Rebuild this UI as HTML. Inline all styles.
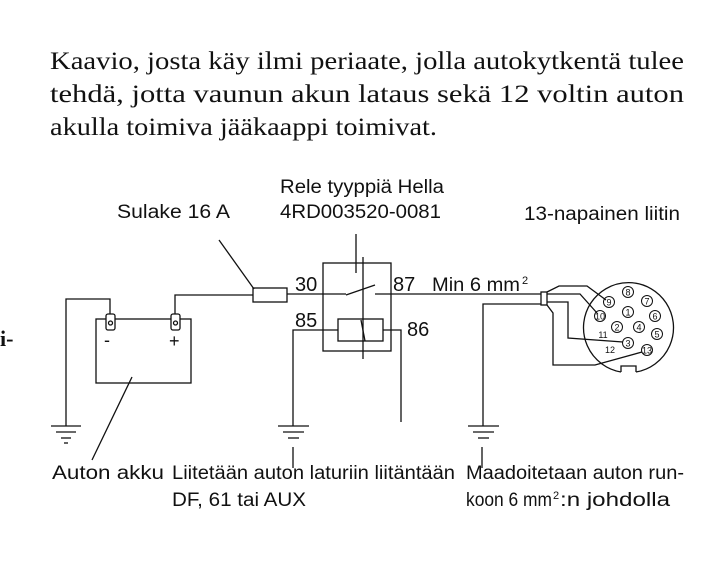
<!DOCTYPE html>
<html><head><meta charset="utf-8"><style>
html,body{margin:0;padding:0;background:#fff;}
svg{display:block;}
.s{font-family:"Liberation Serif",serif;font-size:25px;fill:#111;}
.a{font-family:"Liberation Sans",sans-serif;font-size:19px;fill:#111;}
.sup{font-family:"Liberation Sans",sans-serif;font-size:11px;fill:#111;}
.n{font-family:"Liberation Sans",sans-serif;font-size:20px;fill:#111;}
.p{font-family:"Liberation Sans",sans-serif;font-size:9px;fill:#111;}
</style></head><body>
<svg width="719" height="562" viewBox="0 0 719 562" xmlns="http://www.w3.org/2000/svg">
<rect width="719" height="562" fill="#fff"/>
<text class="s" x="50" y="69" textLength="634" lengthAdjust="spacingAndGlyphs">Kaavio, josta käy ilmi periaate, jolla autokytkentä tulee</text>
<text class="s" x="50" y="102" textLength="634" lengthAdjust="spacingAndGlyphs">tehdä, jotta vaunun akun lataus sekä 12 voltin auton</text>
<text class="s" x="50" y="135" textLength="387" lengthAdjust="spacingAndGlyphs">akulla toimiva jääkaappi toimivat.</text>
<text x="0" y="346" style="font-family:'Liberation Serif',serif;font-size:22px;font-weight:bold;fill:#111">i-</text>

<g stroke="#111" stroke-width="1.3" fill="none">
<rect x="96" y="319" width="95" height="64"/>
<rect x="106" y="314" width="9" height="16" rx="2" fill="#fff"/>
<circle cx="110.5" cy="323" r="2"/>
<rect x="171" y="314" width="9" height="16" rx="2" fill="#fff"/>
<circle cx="175.5" cy="323" r="2"/>
<polyline points="110,314 110,299 66,299 66,426"/>
<polyline points="175,314 175,295 253,295"/>
<line x1="132" y1="377" x2="92" y2="460"/>
<line x1="51" y1="426" x2="81" y2="426"/><line x1="56" y1="432" x2="76" y2="432"/><line x1="61" y1="438" x2="71" y2="438"/><line x1="64" y1="443" x2="68" y2="443"/>
<line x1="278" y1="426" x2="309" y2="426"/><line x1="283" y1="432" x2="304" y2="432"/><line x1="288" y1="438" x2="299" y2="438"/><line x1="293" y1="447" x2="293" y2="468"/>
<line x1="468" y1="426" x2="499" y2="426"/><line x1="473" y1="432" x2="494" y2="432"/><line x1="478" y1="438" x2="489" y2="438"/><line x1="482" y1="447" x2="482" y2="468"/>
<rect x="253" y="288" width="34" height="14"/>
<line x1="287" y1="294" x2="346" y2="294"/>
<line x1="219" y1="240" x2="254" y2="289"/>
<rect x="323" y="263" width="68" height="88"/>
<line x1="356" y1="234" x2="356" y2="273"/>
<line x1="363" y1="257" x2="363" y2="359"/>
<line x1="346" y1="295" x2="375" y2="285"/>
<line x1="375" y1="294" x2="541" y2="294"/>
<rect x="338" y="319" width="45" height="22"/>
<line x1="361" y1="320" x2="365" y2="341"/>
<polyline points="338,330 293,330 293,426"/>
<polyline points="383,330 401,330 401,422"/>
<rect x="541" y="292" width="6" height="13" fill="#fff"/>
<polyline points="541,304 483,304 483,426"/>
<path d="M636 372 A45 45 0 1 0 621 372"/>
<polyline points="621,372 621,366 636,366 636,372"/>
<polyline points="547,292 559,286 587,286 606,300"/>
<polyline points="547,294 580,294 597,313"/>
<polyline points="547,302 568,302 568,338 623,342"/>
<polyline points="547,305 553,313 553,365 595,365 642,352"/>
<g stroke-width="1">
<circle cx="609" cy="302" r="5.5"/><circle cx="628" cy="292" r="5.5"/><circle cx="647" cy="301" r="5.5"/>
<circle cx="600" cy="316" r="5.5"/><circle cx="628" cy="312" r="5.5"/><circle cx="655" cy="316" r="5.5"/>
<circle cx="617" cy="327" r="5.5"/><circle cx="639" cy="327" r="5.5"/><circle cx="657" cy="334" r="5.5"/>
<circle cx="628" cy="343" r="5.5"/><circle cx="647" cy="350" r="5.5"/>
</g>
</g>
<g class="p" text-anchor="middle">
<text x="609" y="305.5">9</text><text x="628" y="295.5">8</text><text x="647" y="304.5">7</text>
<text x="600" y="319.5">10</text><text x="628" y="315.5">1</text><text x="655" y="319.5">6</text>
<text x="617" y="330.5">2</text><text x="639" y="330.5">4</text><text x="657" y="337.5">5</text>
<text x="628" y="346.5">3</text><text x="647" y="353.5">13</text>
<text x="603" y="338">11</text><text x="610" y="353">12</text>
</g>
<text x="104" y="346" class="a" style="font-size:18px">-</text>
<text x="169" y="347" class="a" style="font-size:18px">+</text>

<text class="n" x="295" y="291">30</text>
<text class="n" x="393" y="291">87</text>
<text class="n" x="295" y="327">85</text>
<text class="n" x="407" y="336">86</text>

<text class="a" x="117" y="218" textLength="113" lengthAdjust="spacingAndGlyphs">Sulake 16 A</text>
<text class="a" x="280" y="193" textLength="164" lengthAdjust="spacingAndGlyphs">Rele tyyppiä Hella</text>
<text class="a" x="280" y="218" textLength="161" lengthAdjust="spacingAndGlyphs">4RD003520-0081</text>
<text class="a" x="524" y="220" textLength="156" lengthAdjust="spacingAndGlyphs">13-napainen liitin</text>
<text class="a" x="432" y="291" textLength="88" lengthAdjust="spacingAndGlyphs">Min 6 mm</text>
<text class="sup" x="522" y="284">2</text>

<text class="a" x="52" y="479" textLength="112" lengthAdjust="spacingAndGlyphs">Auton akku</text>
<text class="a" x="172" y="479" textLength="283" lengthAdjust="spacingAndGlyphs">Liitetään auton laturiin liitäntään</text>
<text class="a" x="466" y="479" textLength="218" lengthAdjust="spacingAndGlyphs">Maadoitetaan auton run-</text>
<text class="a" x="172" y="506" textLength="134" lengthAdjust="spacingAndGlyphs">DF, 61 tai AUX</text>
<text class="a" x="466" y="506" style="font-size:19px" textLength="86" lengthAdjust="spacingAndGlyphs">koon 6 mm</text>
<text class="sup" x="553" y="499">2</text>
<text class="a" x="560" y="506" style="font-size:19px" textLength="110" lengthAdjust="spacingAndGlyphs">:n johdolla</text>
</svg>
</body></html>
